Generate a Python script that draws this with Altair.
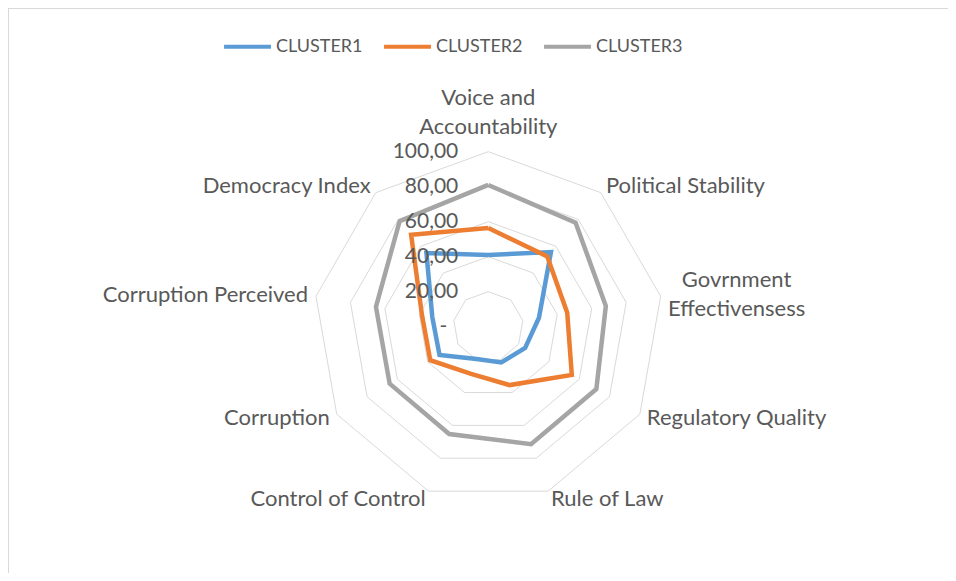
import altair as alt
import pandas as pd

# ---- data ----
categories = ["Voice and\nAccountability", "Political Stability", "Govrnment\nEffectivensess",
              "Regulatory Quality", "Rule of Law", "Control of Control", "Corruption",
              "Corruption Perceived", "Democracy Index"]
series_names = ["CLUSTER1", "CLUSTER2", "CLUSTER3"]
cluster1 = [41.0, 55.7, 29.4, 24.3, 21.7, 19.7, 32.2, 32.5, 55.0]
cluster2 = [56.4, 52.4, 45.8, 55.1, 35.5, 28.7, 38.3, 38.5, 68.6]
cluster3 = [81.0, 77.6, 68.2, 71.3, 71.4, 65.3, 65.1, 65.2, 78.8]
tick_values = [0, 20, 40, 60, 80, 100]
tick_labels = ["-", "20,00", "40,00", "60,00", "80,00", "100,00"]
colors = ["#5b9bd5", "#ed7d31", "#a5a5a5"]

n = len(categories)
rmax = tick_values[-1]

series_rows = []
for name, vals in zip(series_names, [cluster1, cluster2, cluster3]):
    for k in range(n + 1):
        series_rows.append({"series": name, "i": k % n, "step": k, "v": vals[k % n]})
series_df = pd.DataFrame(series_rows)

ring_rows = []
for t in tick_values[1:]:
    for k in range(n + 1):
        ring_rows.append({"ring": t, "i": k % n, "step": k, "v": t})
ring_df = pd.DataFrame(ring_rows)

cat_df = pd.DataFrame({"cat": categories, "i": list(range(n)),
                       "multi": [("\n" in c) for c in categories]})
tick_df = pd.DataFrame({"v": tick_values, "lab": tick_labels})

W, H = 940, 565
PX = 1.75  # pixels per unit
cx, cy = 480.3, 318.7
xscale = alt.Scale(domain=[-cx / PX, (W - cx) / PX], nice=False, zero=False)
yscale = alt.Scale(domain=[-(H - cy) / PX, cy / PX], nice=False, zero=False)

ang = f"2*PI*datum.i/{n}"
X = alt.X("x:Q", scale=xscale, axis=None)
Y = alt.Y("y:Q", scale=yscale, axis=None)
FONT = "Lato"
TXT = "#595959"
LFS = 22

rings = alt.Chart(ring_df).transform_calculate(
    x=f"datum.v*sin({ang})", y=f"datum.v*cos({ang})"
).mark_line(color="#d9d9d9", strokeWidth=1).encode(
    x=X, y=Y, detail="ring:N", order="step:Q"
)

lines = alt.Chart(series_df).transform_calculate(
    x=f"datum.v*sin({ang})", y=f"datum.v*cos({ang})"
).mark_line(strokeWidth=4.5).encode(
    x=X, y=Y, order="step:Q",
    color=alt.Color("series:N",
                    scale=alt.Scale(domain=series_names, range=colors),
                    legend=alt.Legend(title=None, orient="none", legendX=214, legendY=13,
                                      direction="horizontal", symbolType="stroke",
                                      symbolSize=2200, symbolStrokeWidth=4,
                                      labelFont=FONT, labelFontSize=18, labelColor=TXT,
                                      columnPadding=13, labelOffset=3, padding=0))
)

ticks_num = alt.Chart(tick_df).transform_filter("datum.v > 0").transform_calculate(
    x="0", y="datum.v"
).mark_text(align="right", baseline="middle", dx=-30, font=FONT, fontSize=21, color=TXT).encode(
    x=X, y=Y, text="lab:N"
)
ticks_zero = alt.Chart(tick_df).transform_filter("datum.v == 0").transform_calculate(
    x="0", y="datum.v"
).mark_text(align="right", baseline="middle", dx=-41, font=FONT, fontSize=21, color=TXT).encode(
    x=X, y=Y, text="lab:N"
)

gap = 4.6
lab_base = alt.Chart(cat_df).transform_calculate(
    s=f"sin({ang})", c=f"cos({ang})"
).transform_calculate(
    x=f"({rmax}+{gap})*datum.s", y=f"({rmax}+{gap})*datum.c"
)
lab_right = lab_base.transform_filter("datum.s > 0.1 && !datum.multi").mark_text(
    align="left", baseline="middle", font=FONT, fontSize=LFS, color=TXT
).encode(x=X, y=Y, text="cat:N")
lab_right_multi = lab_base.transform_filter("datum.s > 0.1 && datum.multi").mark_text(
    align="center", baseline="middle", lineBreak="\n", lineHeight=29, dx=68, dy=-14.5,
    font=FONT, fontSize=LFS, color=TXT
).encode(x=X, y=Y, text="cat:N")
lab_left = lab_base.transform_filter("datum.s < -0.1").mark_text(
    align="right", baseline="middle", lineBreak="\n", lineHeight=29,
    font=FONT, fontSize=LFS, color=TXT
).encode(x=X, y=Y, text="cat:N")
lab_top = alt.Chart(cat_df).transform_calculate(
    s=f"sin({ang})", c=f"cos({ang})"
).transform_filter("abs(datum.s) <= 0.1").transform_calculate(
    x=f"({rmax}+30.7)*datum.s", y=f"({rmax}+30.7)*datum.c"
).mark_text(align="center", baseline="middle", lineBreak="\n", lineHeight=29,
            font=FONT, fontSize=LFS, color=TXT).encode(x=X, y=Y, text="cat:N")

frame_top = alt.Chart(tick_df).mark_rule(color="#d9d9d9", strokeWidth=2).encode(
    x=alt.value(0), x2=alt.value(W), y=alt.value(0)
)
frame_left = alt.Chart(tick_df).mark_rule(color="#d9d9d9", strokeWidth=2).encode(
    x=alt.value(0), y=alt.value(0), y2=alt.value(H)
)

chart = alt.layer(
    frame_top, frame_left, rings, lines, ticks_num, ticks_zero,
    lab_right, lab_right_multi, lab_left, lab_top
).properties(
    width=W, height=H, padding=0,
    autosize=alt.AutoSizeParams(type="none"),
    background="white",
).configure_view(stroke="transparent")

chart.save("out.html", embed_options={"renderer": "svg", "actions": False})
